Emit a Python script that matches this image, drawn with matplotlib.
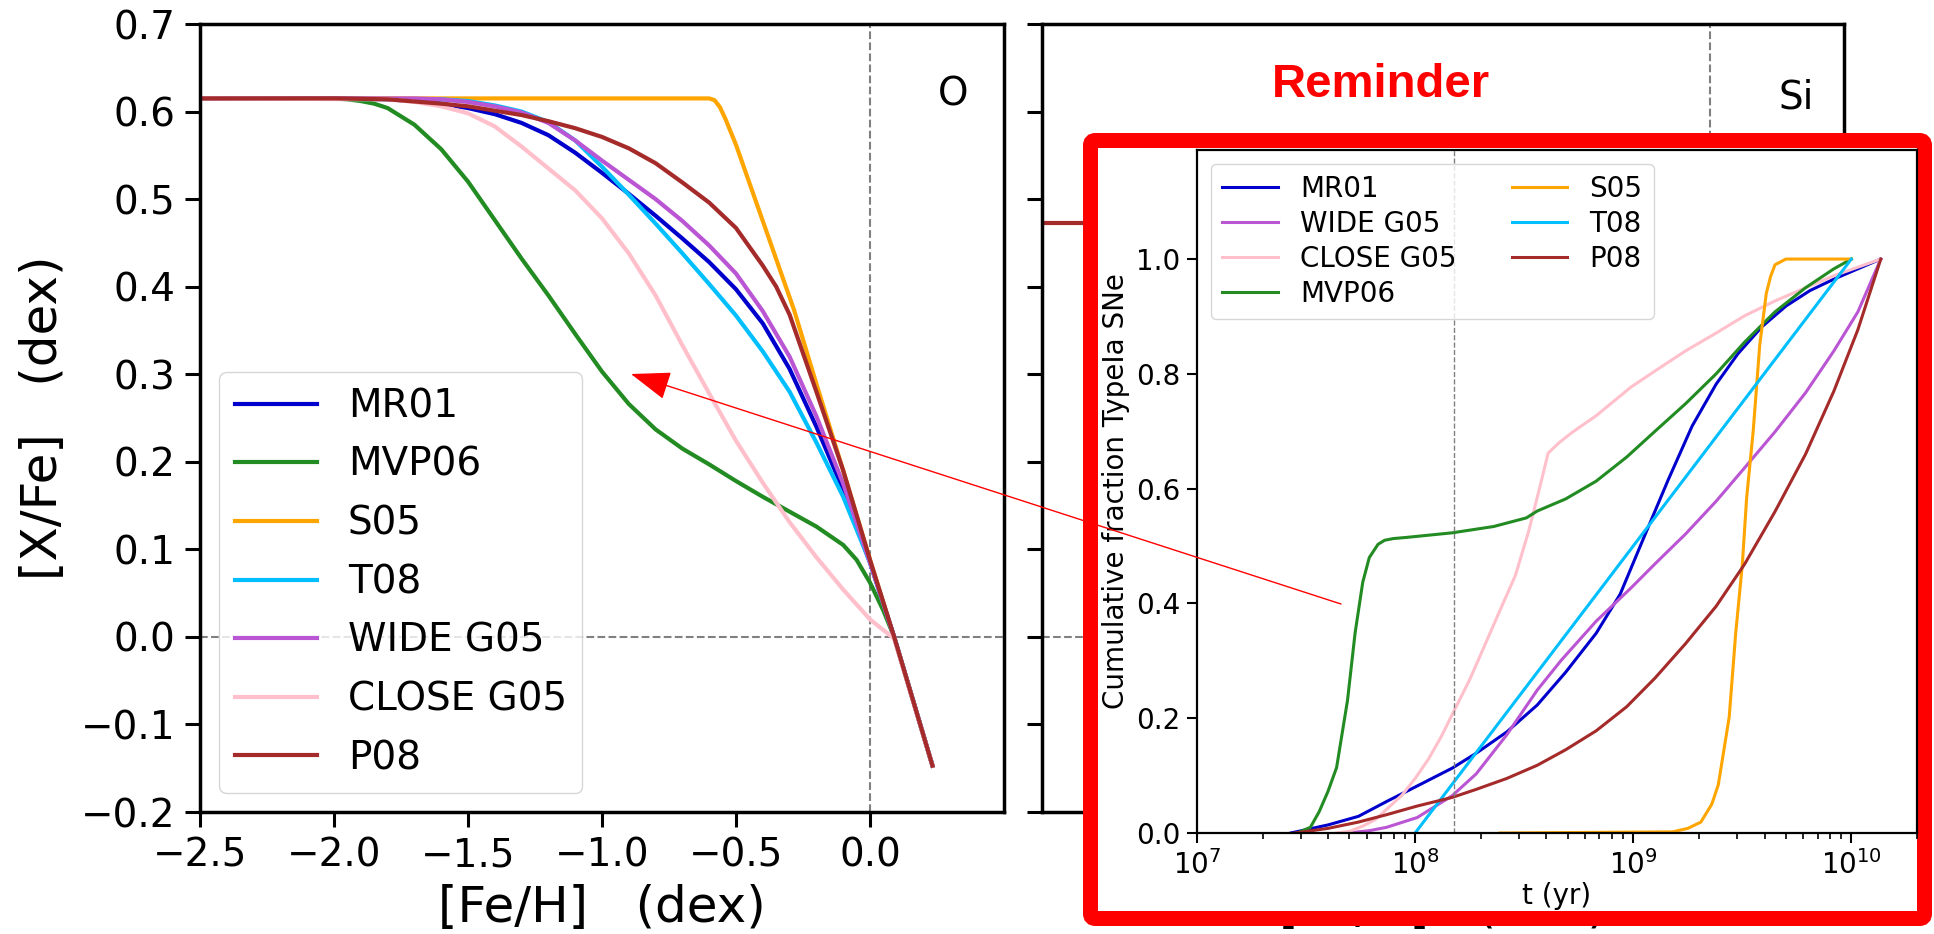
import numpy as np
import matplotlib.pyplot as plt
from matplotlib.patches import FancyBboxPatch, FancyArrowPatch

# ---- left panel: [X/Fe] vs [Fe/H] for O ----
labels_o = ['MR01', 'MVP06', 'S05', 'T08', 'WIDE G05', 'CLOSE G05', 'P08']
colors = {'MR01': 'mediumblue', 'MVP06': 'forestgreen', 'S05': 'orange', 'T08': 'deepskyblue',
          'WIDE G05': 'mediumorchid', 'CLOSE G05': 'pink', 'P08': 'brown'}

mr01_feh = [-2.5, -2.0, -1.8, -1.7, -1.6, -1.5, -1.4, -1.3, -1.2, -1.1, -1.0, -0.9, -0.8, -0.7, -0.6,
            -0.5, -0.4, -0.3, -0.2, -0.1, 0.0, 0.09, 0.233]
mr01_xfe = [0.615, 0.615, 0.614, 0.612, 0.609, 0.604, 0.597, 0.587, 0.573, 0.553, 0.530, 0.506, 0.481,
            0.455, 0.428, 0.397, 0.358, 0.306, 0.240, 0.168, 0.085, 0.0, -0.147]
mvp06_feh = [-2.5, -2.0, -1.95, -1.9, -1.85, -1.8, -1.7, -1.6, -1.5, -1.4, -1.3, -1.2, -1.1, -1.0, -0.9,
             -0.8, -0.7, -0.6, -0.5, -0.4, -0.3, -0.2, -0.1, -0.05, 0.0, 0.05, 0.09, 0.233]
mvp06_xfe = [0.615, 0.615, 0.614, 0.612, 0.609, 0.604, 0.585, 0.557, 0.520, 0.476, 0.432, 0.390, 0.346,
             0.303, 0.266, 0.237, 0.215, 0.197, 0.178, 0.160, 0.143, 0.126, 0.105, 0.088, 0.062, 0.030,
             0.0, -0.147]
s05_feh = [-2.5, -0.6, -0.58, -0.56, -0.54, -0.5, -0.4, -0.283, -0.2, -0.1, 0.0, 0.09, 0.233]
s05_xfe = [0.615, 0.615, 0.613, 0.605, 0.592, 0.562, 0.475, 0.373, 0.289, 0.190, 0.088, 0.0, -0.147]
t08_feh = [-2.5, -1.6, -1.5, -1.4, -1.3, -1.2, -1.1, -1.0, -0.9, -0.8, -0.7, -0.6, -0.5, -0.4, -0.3,
           -0.2, -0.1, 0.0, 0.09, 0.233]
t08_xfe = [0.615, 0.614, 0.612, 0.607, 0.600, 0.588, 0.567, 0.537, 0.505, 0.472, 0.438, 0.403, 0.367,
           0.326, 0.280, 0.222, 0.160, 0.085, 0.0, -0.147]
wide_feh = [-2.5, -1.7, -1.6, -1.5, -1.4, -1.3, -1.2, -1.1, -1.0, -0.9, -0.8, -0.7, -0.6, -0.5, -0.4,
            -0.3, -0.2, -0.1, 0.0, 0.09, 0.233]
wide_xfe = [0.615, 0.615, 0.614, 0.611, 0.606, 0.599, 0.587, 0.567, 0.544, 0.522, 0.500, 0.475, 0.447,
            0.415, 0.372, 0.320, 0.252, 0.175, 0.085, 0.0, -0.147]
close_feh = [-2.5, -1.8, -1.7, -1.6, -1.5, -1.4, -1.3, -1.2, -1.1, -1.0, -0.9, -0.8, -0.7, -0.6, -0.5,
             -0.4, -0.3, -0.2, -0.1, 0.0, 0.09, 0.233]
close_xfe = [0.615, 0.614, 0.611, 0.606, 0.598, 0.583, 0.560, 0.535, 0.510, 0.478, 0.438, 0.390, 0.333,
             0.278, 0.224, 0.176, 0.131, 0.091, 0.054, 0.020, -0.002, -0.147]
p08_feh = [-2.5, -2.0, -1.8, -1.6, -1.5, -1.4, -1.3, -1.2, -1.1, -1.0, -0.9, -0.8, -0.7, -0.6, -0.5,
           -0.4, -0.35, -0.3, -0.2, -0.1, 0.0, 0.09, 0.233]
p08_xfe = [0.615, 0.615, 0.614, 0.609, 0.606, 0.601, 0.596, 0.589, 0.581, 0.571, 0.558, 0.541, 0.519,
           0.496, 0.467, 0.424, 0.400, 0.368, 0.280, 0.190, 0.088, 0.0, -0.147]

# ---- right panel (Si), mostly hidden behind the reminder ----
si_p08_feh = [-2.5, -1.5]
si_p08_xfe = [0.473, 0.473]

# ---- reminder inset: cumulative fraction of SNe Ia vs log10(t/yr) ----
mr01_logt = [7.43, 7.60, 7.74, 7.87, 8.01, 8.17, 8.28, 8.42, 8.56, 8.69, 8.83, 8.94, 9.05, 9.16, 9.27,
             9.38, 9.48, 9.59, 9.70, 9.81, 9.92, 10.03, 10.135]
mr01_cum = [0.0, 0.014, 0.029, 0.055, 0.082, 0.113, 0.139, 0.176, 0.223, 0.280, 0.348, 0.416, 0.516,
            0.615, 0.709, 0.782, 0.835, 0.882, 0.918, 0.945, 0.965, 0.983, 1.0]
wide_logt = [7.69, 7.79, 7.87, 8.01, 8.17, 8.28, 8.42, 8.56, 8.67, 8.83, 8.99, 9.10, 9.24, 9.38, 9.51,
             9.65, 9.79, 9.92, 10.03, 10.135]
wide_cum = [0.0, 0.004, 0.010, 0.027, 0.065, 0.103, 0.171, 0.249, 0.301, 0.369, 0.427, 0.469, 0.521,
            0.578, 0.636, 0.699, 0.767, 0.840, 0.908, 1.0]
close_logt = [7.64, 7.70, 7.76, 7.82, 7.88, 7.94, 8.00, 8.06, 8.12, 8.18, 8.25, 8.31, 8.38, 8.46, 8.52,
              8.57, 8.61, 8.66, 8.72, 8.83, 8.99, 9.10, 9.24, 9.38, 9.51, 9.65, 9.79, 9.92, 10.135]
close_cum = [0.0, 0.003, 0.012, 0.024, 0.045, 0.066, 0.095, 0.128, 0.168, 0.214, 0.267, 0.319, 0.380,
             0.449, 0.525, 0.600, 0.662, 0.680, 0.698, 0.727, 0.777, 0.805, 0.840, 0.871, 0.901, 0.927,
             0.950, 0.971, 1.0]
mvp06_logt = [7.46, 7.52, 7.56, 7.60, 7.64, 7.69, 7.725, 7.76, 7.79, 7.83, 7.86, 7.90, 7.96, 8.17, 8.36,
              8.51, 8.56, 8.69, 8.83, 8.97, 9.10, 9.24, 9.38, 9.51, 9.65, 9.79, 9.92, 10.0]
mvp06_cum = [0.0, 0.01, 0.037, 0.072, 0.114, 0.231, 0.349, 0.437, 0.480, 0.503, 0.510, 0.513, 0.515,
             0.523, 0.534, 0.549, 0.561, 0.582, 0.613, 0.655, 0.700, 0.748, 0.800, 0.855, 0.908, 0.950,
             0.983, 1.0]
s05_logt = [8.39, 9.18, 9.25, 9.31, 9.36, 9.39, 9.44, 9.47, 9.50, 9.52, 9.55, 9.58, 9.61, 9.63, 9.65,
            9.70, 10.0]
s05_cum = [0.0, 0.002, 0.008, 0.019, 0.050, 0.084, 0.202, 0.349, 0.467, 0.584, 0.70, 0.85, 0.94, 0.97,
           0.99, 1.0, 1.0]
t08_logt = [8.0, 8.5, 9.0, 9.5, 10.0]
t08_cum = [0.0, 0.25, 0.5, 0.75, 1.0]
p08_logt = [7.45, 7.60, 7.74, 7.87, 8.01, 8.17, 8.28, 8.42, 8.56, 8.69, 8.83, 8.97, 9.10, 9.24, 9.38,
            9.51, 9.65, 9.79, 9.92, 10.03, 10.135]
p08_cum = [0.0, 0.008, 0.019, 0.032, 0.047, 0.062, 0.076, 0.095, 0.118, 0.145, 0.178, 0.22, 0.27, 0.33,
           0.395, 0.468, 0.56, 0.66, 0.77, 0.877, 1.0]
t_marker = 1.5e8

o_curves = {'MR01': (mr01_feh, mr01_xfe), 'MVP06': (mvp06_feh, mvp06_xfe), 'S05': (s05_feh, s05_xfe),
            'T08': (t08_feh, t08_xfe), 'WIDE G05': (wide_feh, wide_xfe), 'CLOSE G05': (close_feh, close_xfe),
            'P08': (p08_feh, p08_xfe)}
inset_curves = {'MR01': (mr01_logt, mr01_cum), 'WIDE G05': (wide_logt, wide_cum),
                'CLOSE G05': (close_logt, close_cum), 'MVP06': (mvp06_logt, mvp06_cum),
                'S05': (s05_logt, s05_cum), 'T08': (t08_logt, t08_cum), 'P08': (p08_logt, p08_cum)}

W, H = 1934, 934
fig = plt.figure(figsize=(W / 100, H / 100), dpi=100)


def px_rect(x0, y0, x1, y1):
    # pixel box measured from the top-left corner -> figure fraction rect
    return [x0 / W, 1 - y1 / H, (x1 - x0) / W, (y1 - y0) / H]


yticks = [-0.2, -0.1, 0.0, 0.1, 0.2, 0.3, 0.4, 0.5, 0.6, 0.7]

ax_o = fig.add_axes(px_rect(200, 24, 1004, 812))
ax_si = fig.add_axes(px_rect(1042, 24, 1844, 812))
for ax in (ax_o, ax_si):
    ax.set_xlim(-2.5, 0.5)
    ax.set_ylim(-0.2, 0.7)
    ax.set_yticks(yticks)
    ax.axhline(0, color='grey', ls='--', lw=1.5, zorder=1)
    ax.axvline(0, color='grey', ls='--', lw=1.5, zorder=1)
    for sp in ax.spines.values():
        sp.set_linewidth(2.5)
    ax.tick_params(length=10.5, width=2.2, labelsize=28, pad=7)
    ax.set_xlabel('[Fe/H]   (dex)', fontsize=36)
    ax.xaxis.set_label_coords(0.5, -0.0915)

for name in labels_o:
    x, y = o_curves[name]
    ax_o.plot(x, y, color=colors[name], lw=3, label=name)
ax_o.set_xticks([-2.5, -2.0, -1.5, -1.0, -0.5, 0.0])
ax_o.set_ylabel('[X/Fe]   (dex)', fontsize=36, labelpad=10)
ax_o.text(0.937, 0.91, 'O', transform=ax_o.transAxes, fontsize=28, ha='center', va='center')
ax_o.legend(loc='lower left', fontsize=28, labelspacing=0.53, handlelength=2.1, handletextpad=0.8)

# Si panel: its tick labels sit under the reminder frame anyway
ax_si.plot(si_p08_feh, si_p08_xfe, color=colors['P08'], lw=3)
ax_si.set_xticks([-2.0, -1.5, -1.0, -0.5, 0.0])
ax_si.tick_params(labelleft=False, labelbottom=False)
ax_si.text(0.941, 0.907, 'Si', transform=ax_si.transAxes, fontsize=28, ha='center', va='center')

# red reminder frame (inches, so the corners stay round)
frame = FancyBboxPatch((10.905, 0.155), 8.34, 7.78, boxstyle='round,pad=0,rounding_size=0.05',
                       transform=fig.dpi_scale_trans, facecolor='white', edgecolor='red', lw=10.8, zorder=2)
fig.add_artist(frame)

ax_in = fig.add_axes(px_rect(1197, 150, 1917, 833))
ax_in.set_zorder(3)
for name, (lt, cum) in inset_curves.items():
    ax_in.plot(10 ** np.array(lt), cum, color=colors[name], lw=2.2, label=name)
ax_in.axvline(t_marker, color='grey', ls='--', lw=1)
ax_in.set_xscale('log')
ax_in.set_xlim(1e7, 2e10)
ax_in.set_ylim(0, 1.19)
ax_in.set_yticks([0.0, 0.2, 0.4, 0.6, 0.8, 1.0])
for sp in ax_in.spines.values():
    sp.set_linewidth(1.6)
ax_in.tick_params(which='major', length=7, width=1.5, labelsize=20, pad=5)
ax_in.tick_params(which='minor', length=4, width=1.2)
ax_in.set_xlabel('t (yr)', fontsize=20, labelpad=2)
ax_in.set_ylabel('Cumulative fraction TypeIa SNe', fontsize=20, labelpad=4)
ax_in.legend(ncol=2, loc='upper left', fontsize=20, labelspacing=0.25, handlelength=2.0, columnspacing=2.0)

fig.text(1381 / W, 1 - 85 / H, 'Reminder', color='red', fontsize=34, fontweight='bold',
         family='Liberation Sans', ha='center', va='center', zorder=4)

arrow = FancyArrowPatch((1341 / W, 1 - 604 / H), (631 / W, 1 - 374 / H), transform=fig.transFigure,
                        arrowstyle='-|>,head_length=25,head_width=9', mutation_scale=1,
                        color='red', lw=1.0, shrinkA=0, shrinkB=0, zorder=6)
fig.add_artist(arrow)

fig.savefig('out.png', dpi=100)
